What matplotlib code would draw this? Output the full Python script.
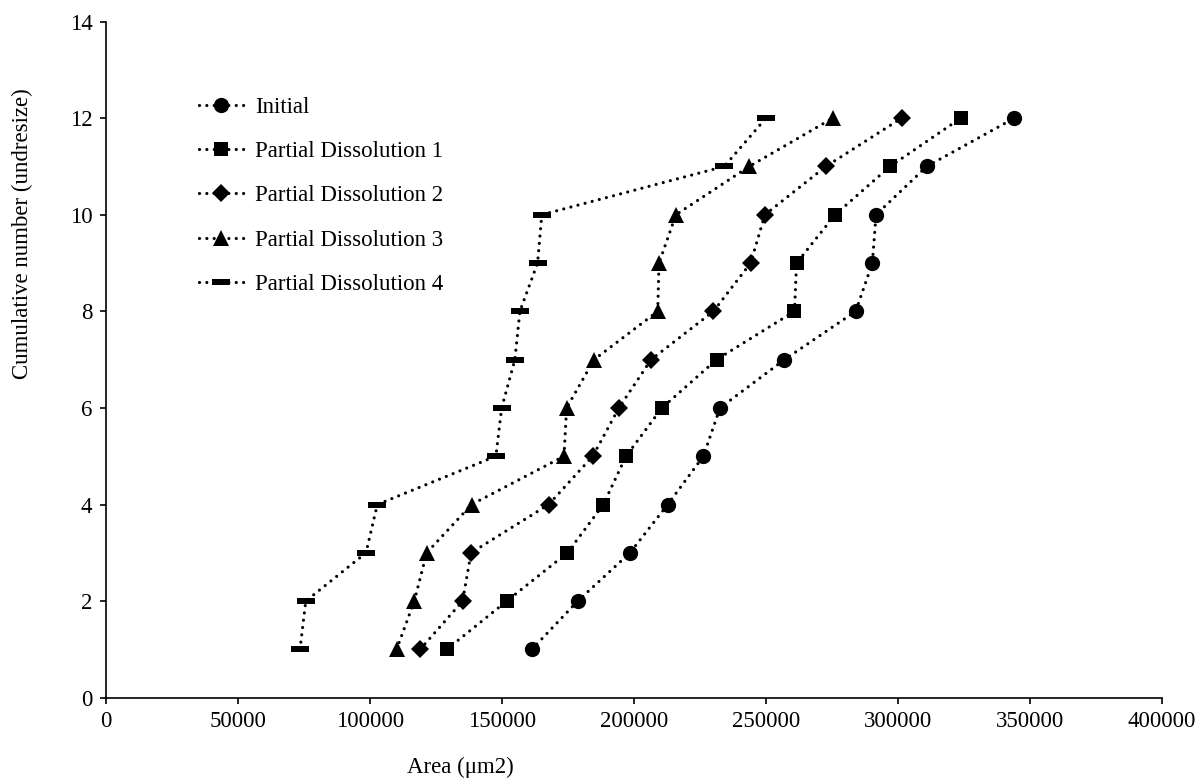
import numpy as np
import matplotlib
matplotlib.use('Agg')
import matplotlib.pyplot as plt

plt.rcParams['font.family']=['Liberation Serif','DejaVu Serif']

# cumulative count (y) against particle area (x)
cum_n=[1,2,3,4,5,6,7,8,9,10,11,12]

area_initial=[161400,178800,198600,212900,226400,232700,257100,284100,290400,291800,311000,344200]
area_pd1=[129200,151900,174900,188500,197100,210700,231400,260900,261700,276300,297100,323900]
area_pd2=[119100,135200,138400,167800,184500,194400,206600,230200,244300,249700,272800,301500]
area_pd3=[110200,116900,121600,138600,173600,174600,185000,209100,209600,216000,243800,275400]
area_pd4=[73600,75800,98600,102900,147800,150000,155000,156900,163600,165200,234300,250100]

series_names=['Initial','Partial Dissolution 1','Partial Dissolution 2','Partial Dissolution 3','Partial Dissolution 4']

x_ticks=[0,50000,100000,150000,200000,250000,300000,350000,400000]
y_ticks=[0,2,4,6,8,10,12,14]

# flat bar marker for the last series
bar_marker=[(-1,-0.32),(1,-0.32),(1,0.32),(-1,0.32),(-1,-0.32)]

styles=[dict(marker='o',ms=11),
		dict(marker='s',ms=10.5),
		dict(marker='D',ms=9),
		dict(marker='^',ms=11.5),
		dict(marker=bar_marker,ms=13)]

fig=plt.figure(figsize=(11.98,7.8),dpi=100)
ax=fig.add_axes([0.0882,0.1055,0.8815,0.8669])

all_x=[area_initial,area_pd1,area_pd2,area_pd3,area_pd4]
for xs,name,st in zip(all_x,series_names,styles):
	line,=ax.plot(xs,cum_n,color='black',lw=2.3,linestyle=(0,(0.001,2.3)),
		dash_capstyle='round',markerfacecolor='black',markeredgecolor='black',
		markeredgewidth=0,label=name,**st)

ax.set_xlim(0,400000)
ax.set_ylim(0,14)
ax.set_xticks(x_ticks)
ax.set_yticks(y_ticks)
ax.set_xticklabels([str(v) for v in x_ticks])

for s in ['top','right']:
	ax.spines[s].set_visible(False)
for s in ['left','bottom']:
	ax.spines[s].set_linewidth(1.2)
ax.tick_params(direction='out',length=4.5,width=1.2,labelsize=16.5,pad=5)

ax.set_xlabel('Area (\u03bcm2)',fontsize=16.5)
ax.xaxis.set_label_coords(0.3355,-0.1036)
ax.xaxis.label.set_va('center')
ax.set_ylabel('Cumulative number (undresize)',fontsize=16.5)
ax.yaxis.set_label_coords(-0.079,0.686)
ax.yaxis.label.set_va('center')

ax.legend(loc='upper left',bbox_to_anchor=(0.0884,0.889),frameon=False,fontsize=16.5,
	borderpad=0,borderaxespad=0,handlelength=1.95,handletextpad=0.5,labelspacing=1.02,numpoints=1)

plt.savefig('out.png',dpi=100)
